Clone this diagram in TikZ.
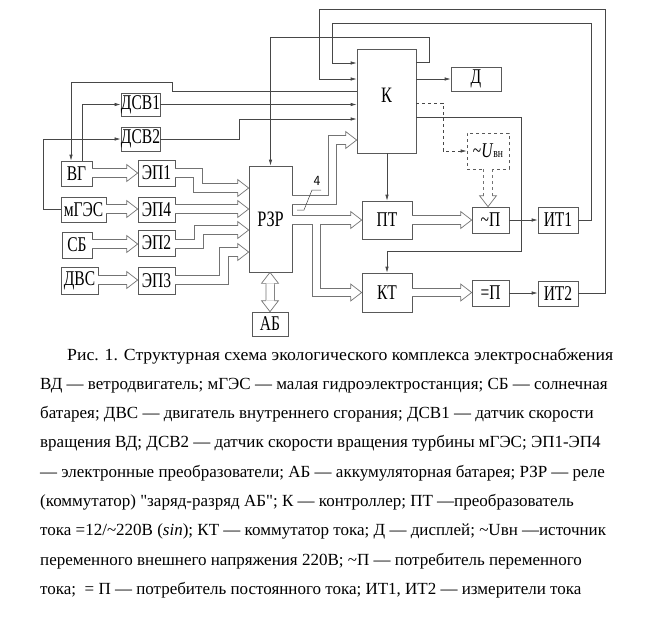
\documentclass[tikz,border=0pt]{standalone}
\usepackage{fontspec}
\setmainfont{Liberation Serif}[Ligatures=TeXOff]
\newfontfamily\lblfont{Liberation Serif}[FakeStretch=0.74]
\usetikzlibrary{arrows.meta,calc}
\definecolor{ln}{gray}{0.28}
\definecolor{bx}{gray}{0.35}
\definecolor{dl}{gray}{0.45}
\tikzset{
 box/.style={draw=bx, line width=0.7pt, inner sep=0pt, font=\lblfont\fontsize{21}{21}\selectfont},
 conn/.style={draw=ln, line width=0.7pt},
 arr/.style={conn, -{Latex[length=6pt,width=3.5pt]}},
 dbl/.style={draw=dl, line width=0.7pt, double=white, double distance=7.8pt, shorten >=11pt},
 hh/.pic={\draw[dl, line width=0.7pt, line join=miter] (-11,4.25) -- (-11,8.5) -- (0,0) -- (-11,-8.5) -- (-11,-4.25);},
 capline/.style={anchor=base west, inner sep=0pt, font=\fontsize{17}{17}\selectfont},
}
\begin{document}
\begin{tikzpicture}[x=1pt,y=-1pt]
\fill[white] (0,0) rectangle (647,638);
\useasboundingbox (0,0) rectangle (647,638);

% boxes
\node[box, minimum width=31, minimum height=25] (vg) at (76.5,173.5) {ВГ};
\node[box, minimum width=45, minimum height=25] (mges) at (83.5,209.5) {мГЭС};
\node[box, minimum width=30, minimum height=26] (sb) at (77,245) {СБ};
\node[box, minimum width=37, minimum height=27] (dvs) at (79.5,280.5) {ДВС};
\node[box, minimum width=37, minimum height=26] (ep1) at (156.5,173) {ЭП1};
\node[box, minimum width=37, minimum height=25] (ep4) at (156.5,209.5) {ЭП4};
\node[box, minimum width=37, minimum height=26] (ep2) at (156.5,243) {ЭП2};
\node[box, minimum width=37, minimum height=27] (ep3) at (156.5,280.5) {ЭП3};
\node[box, minimum width=39, minimum height=23] (dsv1) at (140.5,104.5) {ДСВ1};
\node[box, minimum width=39, minimum height=24] (dsv2) at (140.5,139) {ДСВ2};
\node[box, minimum width=43, minimum height=106, font=\lblfont\fontsize{22}{22}\selectfont] (rzr) at (270.5,219) {РЗР};
\node[box, minimum width=36, minimum height=24] (ab) at (270,324) {АБ};
\node[box, minimum width=59, minimum height=104, font=\lblfont\fontsize{22}{22}\selectfont] (k) at (386.5,101) {\raisebox{12pt}{К}};
\node[box, minimum width=50, minimum height=24] (d) at (476,79) {Д};
\node[box, dashed, minimum width=42, minimum height=36] (uvn) at (488,151) {\textasciitilde\textit{U}{\fontsize{13}{13}\selectfont вн}};
\node[box, minimum width=50, minimum height=38] (pt) at (387,220) {ПТ};
\node[box, minimum width=37, minimum height=26] (pac) at (490.5,220) {\textasciitilde П};
\node[box, minimum width=40, minimum height=26] (it1) at (558,220) {ИТ1};
\node[box, minimum width=50, minimum height=39] (kt) at (387,292.5) {КТ};
\node[box, minimum width=37, minimum height=26] (pdc) at (490.5,293) {=П};
\node[box, minimum width=40, minimum height=25] (it2) at (558,293.5) {ИТ2};

% thin connectors
\draw[arr] (it1.east) -| (591,23) -| (332,63) -- (k.west |- 0,63);
\draw[arr] (it2.east) -| (605,9) -| (319,79) -- (k.west |- 0,79);
\draw[arr] (k.east |- 0,62) -| (429,37) -| (rzr.north);
\draw[arr] (k.west |- 0,91) -| (172,82) -| ([xshift=-5.5]vg.north);
\draw[arr] ([xshift=5.5]vg.north) |- (dsv1.west);
\draw[arr] (mges.west) -| (43,139) -- (dsv2.west);
\draw[arr] (dsv1.east) -- (k.west |- dsv1.east);
\draw[arr] (dsv2.east) -| (239,119) -- (k.west |- 0,119);
\draw[arr] (k.east |- d.west) -- (d.west);
\draw[arr, dashed] (k.east |- 0,103) -| (443,151) -- (uvn.west);
\draw[arr] (k.east |- 0,117) -| (521,251) -| (kt.north);
\draw[arr] (pt.north |- k.south) -- (pt.north);
\draw[arr] (pac.east) -- (it1.west);
\draw[arr] (pdc.east) -- (it2.west |- pdc.east);

% hollow (power) arrows
\draw[dbl] (vg.east |- 0,173) -- (ep1.west |- 0,173); \pic at (ep1.west |- 0,173) {hh};
\draw[dbl] (mges.east |- 0,209) -- (ep4.west |- 0,209); \pic at (ep4.west |- 0,209) {hh};
\draw[dbl] (sb.east |- 0,244) -- (ep2.west |- 0,244); \pic at (ep2.west |- 0,244) {hh};
\draw[dbl] (dvs.east |- 0,280) -- (ep3.west |- 0,280); \pic at (ep3.west |- 0,280) {hh};
\draw[dbl] (ep1.east |- 0,173) -| (198,188) -- (rzr.west |- 0,188); \pic at (rzr.west |- 0,188) {hh};
\draw[dbl] (ep4.east |- 0,209) -- (rzr.west |- 0,209); \pic at (rzr.west |- 0,209) {hh};
\draw[dbl] (ep2.east |- 0,244) -| (199,230) -- (rzr.west |- 0,230); \pic at (rzr.west |- 0,230) {hh};
\draw[dbl] (ep3.east |- 0,280) -| (224,252) -- (rzr.west |- 0,252); \pic at (rzr.west |- 0,252) {hh};
\draw[dbl] (rzr.east |- 0,200) -| (332.5,140) -- (k.west |- 0,140); \pic at (k.west |- 0,140) {hh};
\draw[dbl] (rzr.east |- 0,220) -- (pt.west); \pic at (pt.west) {hh};
\draw[dbl] (316.5,223.9) -- (316.5,292.5) -- (kt.west); \pic at (kt.west) {hh};
\draw[dbl] (pt.east) -- (pac.west); \pic at (pac.west) {hh};
\draw[dbl] (kt.east) -- (pdc.west |- kt.east); \pic at (pdc.west |- kt.east) {hh};
\draw[dbl, dashed] (uvn.south |- 0,169) -- (uvn.south |- pac.north); \pic[rotate=-90] at (uvn.south |- pac.north) {hh};
\draw[dbl, shorten <=11pt] (rzr.south) -- (ab.north); \pic[rotate=-90] at (ab.north) {hh}; \pic[rotate=90] at (ab.north |- rzr.south) {hh};

% bus label 4
\draw[conn, line width=0.5pt] (297,210) -- (304,210) -- (312,190) -- (321,190);
\node[inner sep=0pt, font=\sffamily\fontsize{14}{14}\selectfont] (four) at (317,181) {4};

% caption
\node[capline] (c1) at (67,360) {\scalebox{1.042}[1]{Рис. 1. Структурная схема экологического комплекса электроснабжения}};
\node[capline] (c2) at (40,389.3) {ВД — ветродвигатель; мГЭС — малая гидроэлектростанция; СБ — солнечная};
\node[capline] (c3) at (40,418.6) {батарея; ДВС — двигатель внутреннего сгорания; ДСВ1 — датчик скорости};
\node[capline] (c4) at (40,447.9) {вращения ВД; ДСВ2 — датчик скорости вращения турбины мГЭС; ЭП1-ЭП4};
\node[capline] (c5) at (40,477.2) {— электронные преобразователи; АБ — аккумуляторная батарея; РЗР — реле};
\node[capline] (c6) at (40,506.5) {(коммутатор) "заряд-разряд АБ"; К — контроллер; ПТ —преобразователь};
\node[capline] (c7) at (40,535.8) {тока =12/\textasciitilde 220В (\textit{sin}); КТ — коммутатор тока; Д — дисплей; \textasciitilde Uвн —источник};
\node[capline] (c8) at (40,565.1) {переменного внешнего напряжения 220В; \textasciitilde П — потребитель переменного};
\node[capline] (c9) at (40,594.4) {тока; \ = П — потребитель постоянного тока; ИТ1, ИТ2 — измерители тока};
\end{tikzpicture}
\end{document}
